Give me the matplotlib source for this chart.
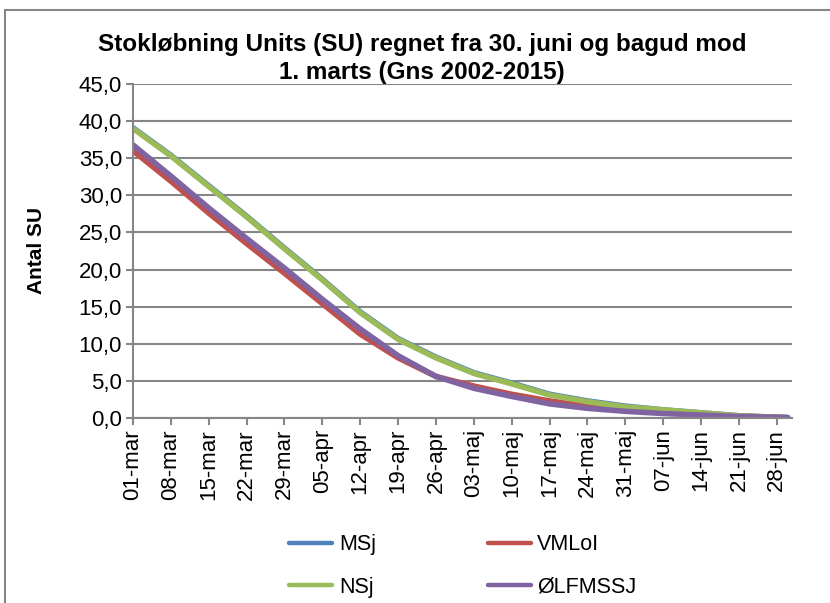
import matplotlib
matplotlib.use("Agg")
import matplotlib.pyplot as plt
from matplotlib.patches import Rectangle

plt.rcParams['font.family'] = ['Liberation Sans', 'DejaVu Sans']

# Day index counted from 01-mar (0) to 30-jun (121)
days = [0, 7, 14, 21, 28, 35, 42, 49, 56, 63, 70, 77, 84, 91, 98, 105, 112, 119, 121]
tick_pos = [0, 7, 14, 21, 28, 35, 42, 49, 56, 63, 70, 77, 84, 91, 98, 105, 112, 119]
tick_labels = ["01-mar", "08-mar", "15-mar", "22-mar", "29-mar", "05-apr", "12-apr",
               "19-apr", "26-apr", "03-maj", "10-maj", "17-maj", "24-maj", "31-maj",
               "07-jun", "14-jun", "21-jun", "28-jun"]

msj = [39.1, 35.4, 31.3, 27.2, 22.9, 18.7, 14.3, 10.7, 8.2, 6.1, 4.7, 3.2, 2.3, 1.6, 1.1, 0.7, 0.3, 0.1, 0.05]
vmloi = [36.0, 31.9, 27.6, 23.5, 19.5, 15.4, 11.3, 8.1, 5.6, 4.3, 3.2, 2.3, 1.6, 1.2, 0.85, 0.5, 0.25, 0.1, 0.05]
nsj = [39.0, 35.3, 31.2, 27.1, 22.8, 18.6, 14.2, 10.6, 8.1, 6.0, 4.6, 3.1, 2.2, 1.5, 1.1, 0.7, 0.3, 0.1, 0.05]
olfmssj = [36.8, 32.6, 28.3, 24.2, 20.2, 16.0, 12.0, 8.4, 5.6, 4.0, 2.9, 1.9, 1.3, 0.9, 0.6, 0.4, 0.2, 0.1, 0.05]

colors = {"MSj": "#4F81BD", "VMLoI": "#C0504D", "NSj": "#9BBB59", "ØLFMSSJ": "#8064A2"}

W, H = 830, 603
fig = plt.figure(figsize=(W / 100, H / 100), dpi=100)
ax = fig.add_axes([133 / W, 1 - 418 / H, (792 - 133) / W, (418 - 84) / H])

gray = "#868686"
lw = 4.0
l_msj, = ax.plot(days, msj, color=colors["MSj"], lw=lw, solid_capstyle='round', label="MSj")
l_vml, = ax.plot(days, vmloi, color=colors["VMLoI"], lw=lw, solid_capstyle='round', label="VMLoI")
l_nsj, = ax.plot(days, nsj, color=colors["NSj"], lw=lw, solid_capstyle='round', label="NSj")
l_olf, = ax.plot(days, olfmssj, color=colors["ØLFMSSJ"], lw=lw, solid_capstyle='round', label="ØLFMSSJ")

ax.set_xlim(0, 121.8)
ax.set_ylim(0, 45)
ax.set_yticks([0, 5, 10, 15, 20, 25, 30, 35, 40, 45])
ax.set_yticklabels([f"{v:.1f}".replace(".", ",") for v in range(0, 50, 5)], fontsize=16)
ax.set_xticks(tick_pos)
ax.set_xticklabels(tick_labels, rotation=90, fontsize=16)
ax.yaxis.grid(True, color=gray, lw=1.5)
ax.set_axisbelow(True)
for s in ["top", "right"]:
    ax.spines[s].set_visible(False)
for s in ["left", "bottom"]:
    ax.spines[s].set_color(gray)
    ax.spines[s].set_linewidth(1.5)
ax.tick_params(axis='both', colors=gray, labelcolor='black', length=5, width=1.5, direction='out')
ax.tick_params(axis='x', pad=3)
ax.tick_params(axis='y', pad=3)

ax.set_ylabel("Antal SU", fontsize=15, fontweight='bold')
ax.yaxis.set_label_coords(-0.132, 0.5)

fig.text(422 / W, 1 - 45 / H, "Stokløbning Units (SU) regnet fra 30. juni og bagud mod",
         ha='center', va='center', fontsize=17.5, fontweight='bold')
fig.text(422 / W, 1 - 72 / H, "1. marts (Gns 2002-2015)",
         ha='center', va='center', fontsize=17.5, fontweight='bold')

leg = fig.legend([l_msj, l_nsj, l_vml, l_olf], ["MSj", "NSj", "VMLoI", "ØLFMSSJ"],
                 ncol=2, loc='center', bbox_to_anchor=(463 / W, 1 - 566 / H),
                 frameon=False, fontsize=15.5, handlelength=2.0, handletextpad=0.3,
                 columnspacing=5.2, labelspacing=1.0)
for h in leg.get_lines():
    h.set_linewidth(3.2)

fig.patches.append(Rectangle((5 / W, -0.1), 1.2, 1 - 10 / H + 0.1, transform=fig.transFigure,
                             fill=False, edgecolor=gray, lw=1.5))

fig.savefig("out.png", dpi=100)
